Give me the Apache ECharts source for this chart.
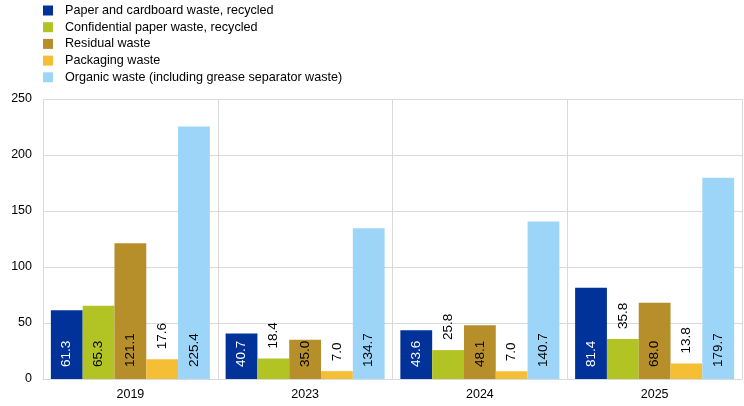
<!DOCTYPE html>
<html><head><meta charset="utf-8">
<script src="https://cdn.jsdelivr.net/npm/echarts@6/dist/echarts.min.js"></script>
<style>html,body{margin:0;padding:0;background:#fff}#c{width:744px;height:406px}</style>
</head><body><div id="c"></div>
<script>
var categories = ['2019', '2023', '2024', '2025'];
var seriesNames = [
  'Paper and cardboard waste, recycled',
  'Confidential paper waste, recycled',
  'Residual waste',
  'Packaging waste',
  'Organic waste (including grease separator waste)'
];
var paperValues = [61.3, 40.7, 43.6, 81.4];
var confidentialValues = [65.3, 18.4, 25.8, 35.8];
var residualValues = [121.1, 35.0, 48.1, 68.0];
var packagingValues = [17.6, 7.0, 7.0, 13.8];
var organicValues = [225.4, 134.7, 140.7, 179.7];
var yTicks = [0, 50, 100, 150, 200, 250];

var colors = ['#003299', '#b2c424', '#b78f2a', '#f4be35', '#9dd5f9'];
var labelColors = ['#ffffff', '#000000', '#000000', '#000000', '#000000'];
var allValues = [paperValues, confidentialValues, residualValues, packagingValues, organicValues];
var FONT = '"Liberation Sans", Arial, sans-serif';

function buildData(vals, si) {
  return vals.map(function (v) {
    var outside = v < 36 && si !== 2;
    return {
      value: v,
      label: outside ? {
        position: 'top', distance: 10, color: '#000000'
      } : {
        position: 'insideBottom', distance: 12, color: labelColors[si]
      }
    };
  });
}

var chart = echarts.init(document.getElementById('c'), null, {renderer: 'canvas'});
chart.setOption({
  animation: false,
  color: colors,
  textStyle: {fontFamily: FONT},
  legend: {
    orient: 'vertical', left: 43, top: 4, padding: 0,
    itemWidth: 10, itemHeight: 10, itemGap: 3.7,
    icon: 'rect',
    textStyle: {fontFamily: FONT, fontSize: 12.6, color: '#000', lineHeight: 12, padding: [0, 0, 0, 7]},
    data: seriesNames
  },
  grid: {left: 43, right: 2, top: 99, bottom: 27, containLabel: false},
  xAxis: {
    type: 'category', data: categories,
    axisLine: {show: true, lineStyle: {color: '#d9d9d9', width: 1}},
    axisTick: {show: false},
    splitLine: {show: true, interval: 0, lineStyle: {color: '#d9d9d9', width: 1}},
    axisLabel: {color: '#000', fontSize: 12.5, fontFamily: FONT, margin: 9}
  },
  yAxis: {
    type: 'value', min: yTicks[0], max: yTicks[yTicks.length - 1], interval: 50,
    axisLine: {show: false}, axisTick: {show: false},
    splitLine: {show: true, lineStyle: {color: '#d9d9d9', width: 1}},
    axisLabel: {color: '#000', fontSize: 12.5, fontFamily: FONT, margin: 11}
  },
  series: allValues.map(function (vals, si) {
    return {
      name: seriesNames[si], type: 'bar',
      barGap: '0%', barCategoryGap: '9%',
      data: buildData(vals, si),
      label: {
        show: true, rotate: 90, align: 'left', verticalAlign: 'middle',
        fontSize: 13.5, fontFamily: FONT,
        formatter: function (p) { return p.value.toFixed(1); }
      }
    };
  })
});
</script></body></html>
